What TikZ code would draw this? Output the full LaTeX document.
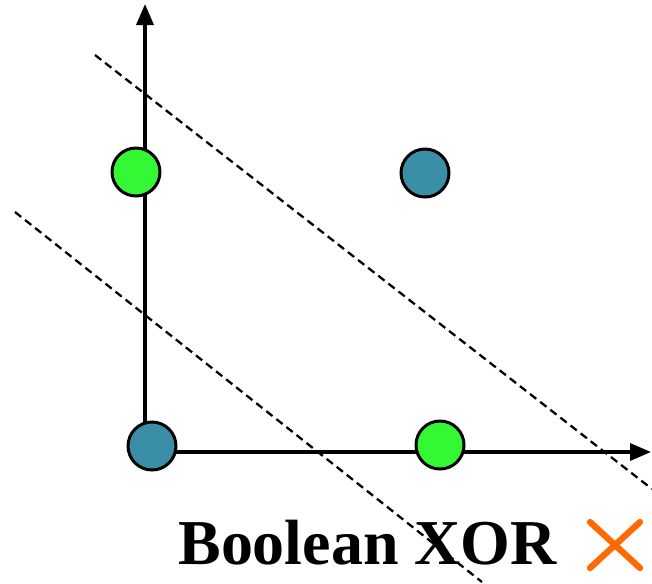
\documentclass[tikz,border=0pt]{standalone}
\usepackage{fontspec}
\setmainfont{Liberation Serif}
\usetikzlibrary{positioning, arrows.meta, calc}
\definecolor{xorblue}{HTML}{3A8EA6}
\definecolor{xorgreen}{HTML}{33F833}
\definecolor{xororange}{HTML}{FF6A00}

\begin{document}
\begin{tikzpicture}[x=0.02cm, y=-0.02cm]
    \useasboundingbox (0,0) rectangle (652,583);
    \tikzset{
      pt/.style={circle, draw=black, line width=1.7pt, minimum size=0.96cm, inner sep=0pt},
      axis/.style={line width=2pt, -{Triangle[width=0.34cm, length=0.42cm]}},
      sep/.style={line width=1.3pt, dash pattern=on 4.5pt off 2.8pt}
    }
    % axes
    \coordinate (o) at (145,452);
    \coordinate (ytip) at (145,4);
    \coordinate (xtip) at (651,452);
    \draw[axis] (o) -- (ytip);
    \draw[axis] (o) -- (xtip);
    % separating lines
    \coordinate (a1) at (95,55);
    \coordinate (a2) at (652,489);
    \coordinate (b1) at (15,212);
    \coordinate (b2) at (482,582);
    \draw[sep] (a1) -- (a2);
    \draw[sep] (b1) -- (b2);
    % points
    \node[pt, fill=xorgreen] (p01) at (136,172) {};
    \node[pt, fill=xorblue] (p11) at (425,173) {};
    \node[pt, fill=xorblue] (p00) at (152,446) {};
    \node[pt, fill=xorgreen] (p10) at (440,445) {};
    % label
    \node[font=\fontsize{36.4}{40}\selectfont\bfseries, anchor=base west, inner sep=0pt] (lbl) at (178,564) {Boolean XOR};
    \coordinate (c1) at (590,522);
    \coordinate (c2) at (640,568);
    \draw[xororange, line width=3.6pt, line cap=round] (c1) -- (c2) (c1 -| c2) -- (c1 |- c2);
\end{tikzpicture}
\end{document}
